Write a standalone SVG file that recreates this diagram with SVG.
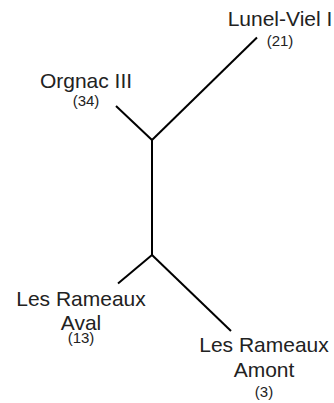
<svg xmlns="http://www.w3.org/2000/svg" width="334" height="403" viewBox="0 0 334 403">
<style>
.l{fill:#222;font-family:"Liberation Sans",Arial,sans-serif;font-size:21px;text-anchor:middle}
.s{fill:#222;font-family:"Liberation Sans",Arial,sans-serif;font-size:15px;text-anchor:middle}
.e{stroke:#000;stroke-width:2;fill:none;stroke-linecap:butt}
</style>
<rect width="334" height="403" fill="#fff"/>
<g id="connectors">
<line class="e" x1="116" y1="106" x2="152" y2="140"/>
<line class="e" x1="152" y1="140" x2="257" y2="37.5"/>
<line class="e" x1="152" y1="140" x2="152" y2="255"/>
<line class="e" x1="152" y1="255" x2="118" y2="283.5"/>
<line class="e" x1="152" y1="255" x2="231" y2="331"/>
</g>
<g id="lunel"><text class="l" x="280" y="26">Lunel-Viel I</text><text class="s" x="280" y="46">(21)</text></g>
<g id="orgnac"><text class="l" x="86" y="87.5">Orgnac III</text><text class="s" x="86" y="106">(34)</text></g>
<g id="aval"><text class="l" x="81" y="306">Les Rameaux</text><text class="l" x="81" y="330">Aval</text><text class="s" x="81" y="343">(13)</text></g>
<g id="amont"><text class="l" x="264" y="351.5">Les Rameaux</text><text class="l" x="264" y="376.5">Amont</text><text class="s" x="264" y="397">(3)</text></g>
</svg>
